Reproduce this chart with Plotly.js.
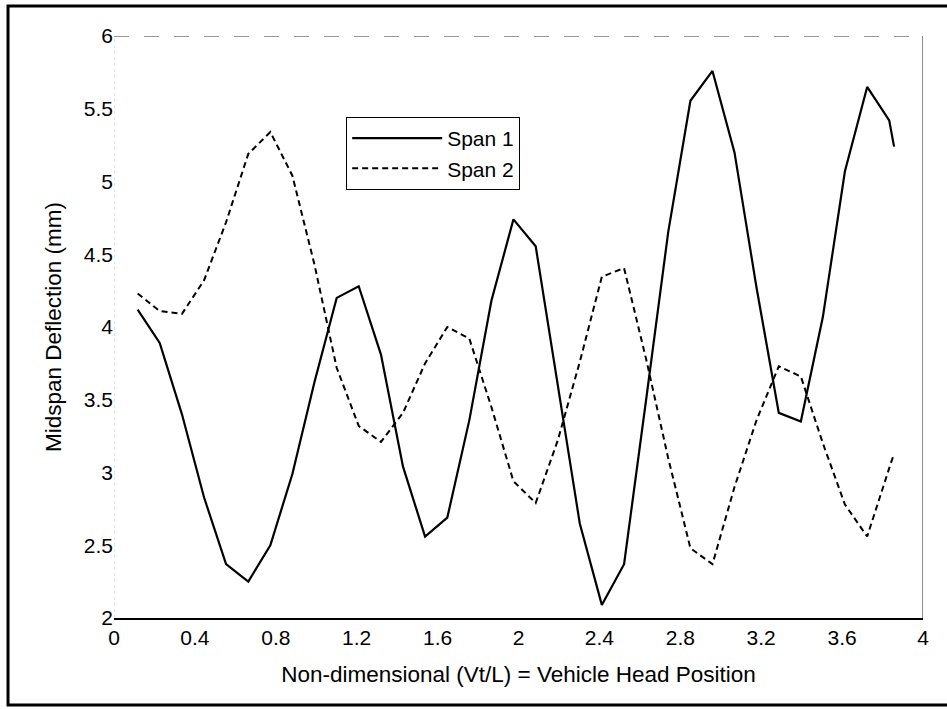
<!DOCTYPE html>
<html>
<head>
<meta charset="utf-8">
<script src="https://cdn.plot.ly/plotly-3.0.1.min.js"></script>
<style>html,body{margin:0;padding:0;background:#fff;}#chart{width:947px;height:709px;}</style>
</head>
<body>
<div id="chart"></div>
<script>
// Vehicle head position (non-dimensional Vt/L)
const headPosition = [0.117,0.226,0.336,0.445,0.554,0.664,0.773,0.882,0.991,1.101,1.210,1.320,1.429,1.538,1.648,1.757,1.866,1.975,2.085,2.194,2.303,2.412,2.522,2.631,2.740,2.850,2.959,3.068,3.177,3.287,3.396,3.505,3.614,3.724,3.833,3.857];
// Midspan deflection (mm)
const span1 = [4.12,3.89,3.40,2.83,2.37,2.25,2.50,2.99,3.62,4.20,4.28,3.81,3.04,2.56,2.69,3.36,4.18,4.74,4.555,3.60,2.65,2.09,2.37,3.50,4.65,5.555,5.76,5.20,4.27,3.41,3.35,4.07,5.07,5.65,5.42,5.24];
const span2 = [4.23,4.11,4.09,4.32,4.72,5.19,5.34,5.04,4.43,3.72,3.32,3.21,3.41,3.75,4.00,3.92,3.45,2.94,2.79,3.22,3.76,4.345,4.405,3.78,3.10,2.48,2.37,2.90,3.36,3.73,3.66,3.20,2.78,2.56,3.03,3.13];
const seriesNames = ["Span 1", "Span 2"];
const xTickVals = [0,0.4,0.8,1.2,1.6,2,2.4,2.8,3.2,3.6,4];
const xTickText = ["0","0.4","0.8","1.2","1.6","2","2.4","2.8","3.2","3.6","4"];
const yTickVals = [2,2.5,3,3.5,4,4.5,5,5.5,6];
const yTickText = ["2","2.5","3","3.5","4","4.5","5","5.5","6"];

const FONT = "Liberation Sans, Arial, Helvetica, sans-serif";

const traces = [
  {x: headPosition, y: span1, name: seriesNames[0], type: "scatter", mode: "lines",
   line: {color: "#000", width: 2.2}},
  {x: headPosition, y: span2, name: seriesNames[1], type: "scatter", mode: "lines",
   line: {color: "#000", width: 2, dash: "6px,4px"}}
];

const layout = {
  width: 947, height: 709,
  margin: {l: 114, r: 24, t: 36, b: 91, pad: 0},
  paper_bgcolor: "#fff", plot_bgcolor: "#fff",
  font: {family: FONT, color: "#000", size: 21},
  showlegend: true,
  legend: {x: 0.287, y: 0.861, xanchor: "left", yanchor: "top",
    bordercolor: "#000", borderwidth: 1, bgcolor: "#fff",
    font: {family: FONT, size: 21, color: "#000"}, itemwidth: 90, tracegroupgap: 0},
  xaxis: {range: [0, 4], tickvals: xTickVals, ticktext: xTickText, ticks: "",
    showgrid: false, zeroline: false, showline: true, linecolor: "#000", linewidth: 1.6,
    tickfont: {family: FONT, size: 21, color: "#000"},
    title: {text: "Non-dimensional (Vt/L) = Vehicle Head Position", font: {family: FONT, size: 22.5, color: "#000"}, standoff: 18},
    fixedrange: true},
  yaxis: {range: [2, 6], tickvals: yTickVals, ticktext: yTickText, ticks: "",
    showgrid: false, zeroline: false, showline: false,
    tickfont: {family: FONT, size: 21, color: "#000"},
    title: {text: "Midspan Deflection (mm)", font: {family: FONT, size: 22.5, color: "#000"}, standoff: 15},
    fixedrange: true},
  shapes: [
    {type: "line", xref: "x", yref: "y", x0: 0, x1: 4, y0: 6, y1: 6, line: {color: "#333", width: 1, dash: "longdash"}},
    {type: "line", xref: "x", yref: "y", x0: 4, x1: 4, y0: 2, y1: 6, line: {color: "#444", width: 1.2}},
    {type: "line", xref: "x", yref: "y", x0: 0, x1: 0, y0: 2, y1: 6, line: {color: "#ccc", width: 1, dash: "dot"}},
    {type: "rect", xref: "paper", yref: "paper", x0: -0.131, x1: 1.05, y0: -0.1495, y1: 1.0515, line: {color: "#000", width: 3}}
  ]
};

Plotly.newPlot("chart", traces, layout, {displayModeBar: false, staticPlot: true});
</script>
</body>
</html>
